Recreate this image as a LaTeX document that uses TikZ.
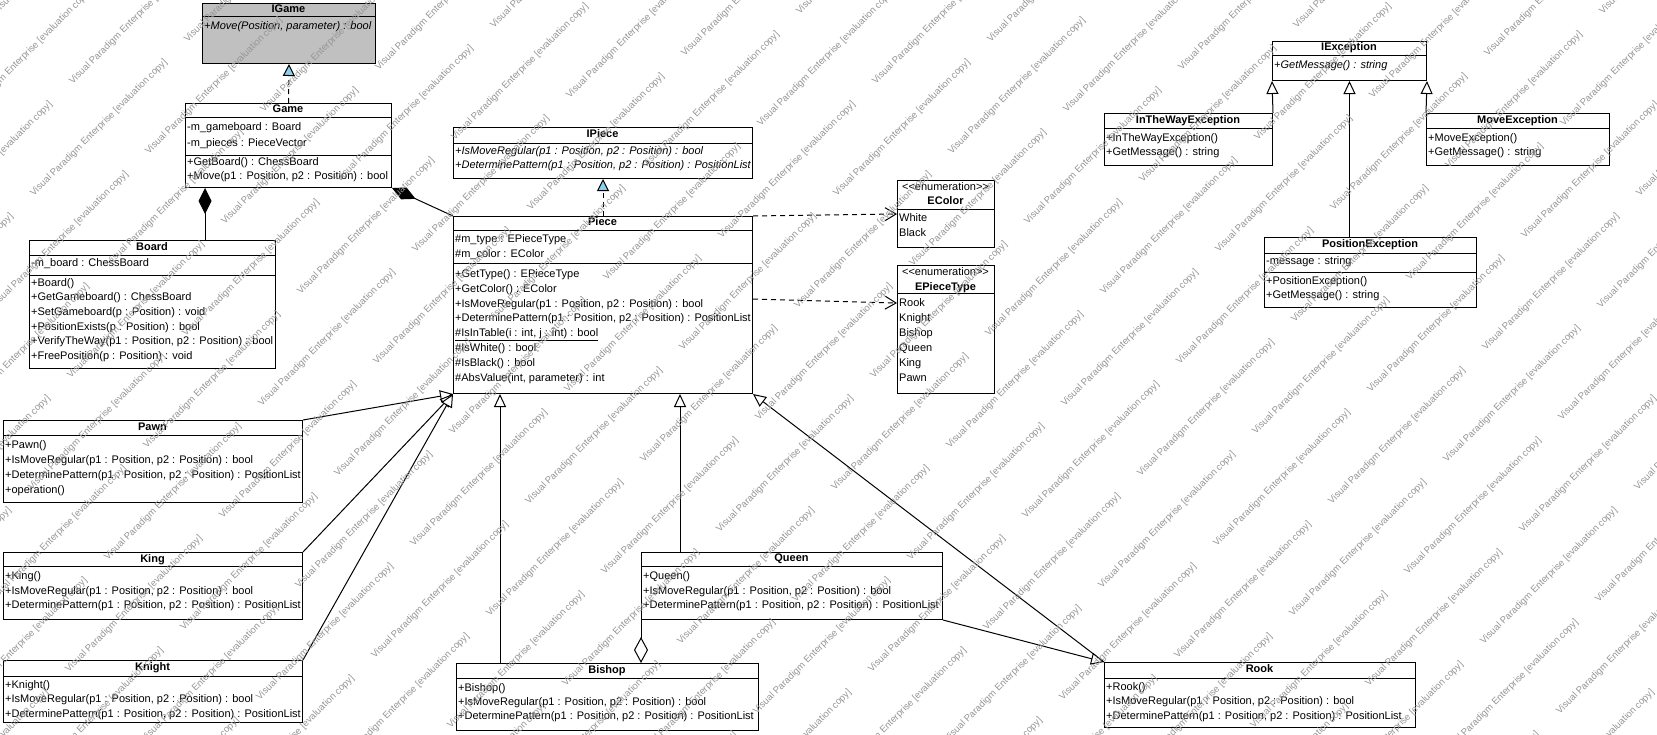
\documentclass[tikz,border=0pt]{standalone}
\usepackage{fontspec}
\setmainfont{Liberation Sans}
\usetikzlibrary{arrows.meta,calc}

\definecolor{ifacegray}{RGB}{192,192,192}
\definecolor{realblue}{RGB}{140,206,235}
\definecolor{wmgray}{RGB}{150,150,150}

% compartment separator inside a class box, #2 = distance from the top
\newcommand\compsep[2]{\draw[boxline] ([yshift=-#2pt]#1.north west) -- ([yshift=-#2pt]#1.north east);}

\tikzset{
  boxline/.style={line width=1pt},
  cls/.style={draw, line width=1pt, fill=white, inner sep=0pt, anchor=north west},
  txt/.style={font=\fontsize{11}{13}\selectfont, inner sep=0pt, anchor=west,
              text height=8pt, text depth=2.5pt},
  itxt/.style={txt, font=\fontsize{11}{13}\selectfont\itshape},
  ttl/.style={font=\fontsize{11}{13}\selectfont\bfseries, inner sep=0pt,
              text height=8pt, text depth=2.5pt},
  stereo/.style={font=\fontsize{11}{13}\selectfont, inner sep=0pt,
              text height=8pt, text depth=2.5pt},
  conn/.style={line width=1pt},
  gen/.style={conn, -{Triangle[length=13pt,width=12pt,fill=white]}},
  real/.style={conn, dash pattern=on 5pt off 4pt, -{Triangle[length=12pt,width=12pt,fill=realblue]}},
  dep/.style={conn, dash pattern=on 5pt off 4pt, -{Straight Barb[length=11pt,width=13pt]}},
  compo/.style={conn, {Diamond[length=26pt,width=13pt,fill=black]}-},
  aggr/.style={conn, {Diamond[length=26pt,width=14pt,fill=white]}-},
  wmark/.style={font=\fontsize{9.5}{11}\selectfont, text=wmgray, rotate=45,
              anchor=west, inner sep=0pt},
}

\begin{document}
\begin{tikzpicture}[x=1pt,y=-1pt]
\useasboundingbox (0,0) rectangle (1657,734);
\fill[white] (0,0) rectangle (1657,734);

% ---------- class boxes ----------
\node[cls, fill=ifacegray, minimum width=173pt, minimum height=60pt] (igame) at (202,3) {};
\compsep{igame}{13}
\node[cls, minimum width=206pt, minimum height=84pt] (game) at (185,103) {};
\compsep{game}{14}\compsep{game}{52}
\node[cls, minimum width=246pt, minimum height=128pt] (board) at (29,240) {};
\compsep{board}{15}\compsep{board}{35}
\node[cls, minimum width=299pt, minimum height=51pt] (ipiece) at (453,127) {};
\compsep{ipiece}{16}
\node[cls, minimum width=299pt, minimum height=177pt] (piece) at (453,216) {};
\compsep{piece}{14}\compsep{piece}{47}
\node[cls, minimum width=97pt, minimum height=67pt] (ecolor) at (897,180) {};
\compsep{ecolor}{29}
\node[cls, minimum width=97pt, minimum height=128pt] (epiece) at (897,265) {};
\compsep{epiece}{28}
\node[cls, minimum width=154pt, minimum height=39pt] (iexc) at (1272,41) {};
\compsep{iexc}{14}
\node[cls, minimum width=168pt, minimum height=52pt] (inway) at (1104,113) {};
\compsep{inway}{15}
\node[cls, minimum width=183pt, minimum height=52pt] (moveexc) at (1426,113) {};
\compsep{moveexc}{15}
\node[cls, minimum width=212pt, minimum height=70pt] (posexc) at (1264,237) {};
\compsep{posexc}{16}\compsep{posexc}{35}
\node[cls, minimum width=299pt, minimum height=82pt] (pawn) at (3,420) {};
\compsep{pawn}{15}
\node[cls, minimum width=299pt, minimum height=67pt] (king) at (3,552) {};
\compsep{king}{14}
\node[cls, minimum width=299pt, minimum height=62pt] (knight) at (3,660) {};
\compsep{knight}{16}
\node[cls, minimum width=302pt, minimum height=67pt] (bishop) at (456,663) {};
\compsep{bishop}{15}
\node[cls, minimum width=301pt, minimum height=67pt] (queen) at (641,552) {};
\compsep{queen}{14}
\node[cls, minimum width=311pt, minimum height=65pt] (rook) at (1104,662) {};
\compsep{rook}{16}

% ---------- class texts ----------
\node[ttl] (igameT) at (288.5,10) {IGame};
\node[itxt] (igame1) at (204,27) {+Move(Position, parameter) : bool};

\node[ttl] (gameT) at (288,110) {Game};
\node[txt] (game1) at (187,128) {-m\_gameboard : Board};
\node[txt] (game2) at (187,144) {-m\_pieces : PieceVector};
\node[txt] (game3) at (187,163) {+GetBoard() : ChessBoard};
\node[txt] (game4) at (187,177) {+Move(p1 : Position, p2 : Position) : bool};

\node[ttl] (boardT) at (152,247.5) {Board};
\node[txt] (board1) at (31,264) {-m\_board : ChessBoard};
\node[txt] (board2) at (31,284) {+Board()};
\node[txt] (board3) at (31,298) {+GetGameboard() : ChessBoard};
\node[txt] (board4) at (31,313) {+SetGameboard(p : Position) : void};
\node[txt] (board5) at (31,328) {+PositionExists(p : Position) : bool};
\node[txt] (board6) at (31,342) {+VerifyTheWay(p1 : Position, p2 : Position) : bool};
\node[txt] (board7) at (31,357) {+FreePosition(p : Position) : void};

\node[ttl] (ipieceT) at (602.5,135) {IPiece};
\node[itxt] (ipiece1) at (455,152) {+IsMoveRegular(p1 : Position, p2 : Position) : bool};
\node[itxt] (ipiece2) at (455,166) {+DeterminePattern(p1 : Position, p2 : Position) : PositionList};

\node[ttl] (pieceT) at (602.5,223) {Piece};
\node[txt] (piece1) at (455,240) {\#m\_type : EPieceType};
\node[txt] (piece2) at (455,255) {\#m\_color : EColor};
\node[txt] (piece3) at (455,275) {+GetType() : EPieceType};
\node[txt] (piece4) at (455,290) {+GetColor() : EColor};
\node[txt] (piece5) at (455,305) {+IsMoveRegular(p1 : Position, p2 : Position) : bool};
\node[txt] (piece6) at (455,319) {+DeterminePattern(p1 : Position, p2 : Position) : PositionList};
\node[txt] (piece7) at (455,334) {\underline{\#IsInTable(i : int, j : int) : bool}};
\node[txt] (piece8) at (455,349) {\#IsWhite() : bool};
\node[txt] (piece9) at (455,364) {\#IsBlack() : bool};
\node[txt] (piece10) at (455,379) {\#AbsValue(int, parameter) : int};

\node[stereo] (ecolorS) at (945.5,188) {<\kern0pt<enumeration>\kern0pt>};
\node[ttl] (ecolorT) at (945.5,202) {EColor};
\node[txt] (ecolor1) at (899,219) {White};
\node[txt] (ecolor2) at (899,234) {Black};

\node[stereo] (epieceS) at (945.5,273) {<\kern0pt<enumeration>\kern0pt>};
\node[ttl] (epieceT) at (945.5,288) {EPieceType};
\node[txt] (epiece1) at (899,304) {Rook};
\node[txt] (epiece2) at (899,319) {Knight};
\node[txt] (epiece3) at (899,334) {Bishop};
\node[txt] (epiece4) at (899,349) {Queen};
\node[txt] (epiece5) at (899,364) {King};
\node[txt] (epiece6) at (899,379) {Pawn};

\node[ttl] (iexcT) at (1349,48) {IException};
\node[itxt] (iexc1) at (1274,66) {+GetMessage() : string};

\node[ttl] (inwayT) at (1188,121) {InTheWayException};
\node[txt] (inway1) at (1106,139) {+InTheWayException()};
\node[txt] (inway2) at (1106,153) {+GetMessage() : string};

\node[ttl] (moveexcT) at (1517.5,121) {MoveException};
\node[txt] (moveexc1) at (1428,139) {+MoveException()};
\node[txt] (moveexc2) at (1428,153) {+GetMessage() : string};

\node[ttl] (posexcT) at (1370,245) {PositionException};
\node[txt] (posexc1) at (1266,262) {-message : string};
\node[txt] (posexc2) at (1266,282) {+PositionException()};
\node[txt] (posexc3) at (1266,296) {+GetMessage() : string};

\node[ttl] (pawnT) at (152.5,428) {Pawn};
\node[txt] (pawn1) at (5,446) {+Pawn()};
\node[txt] (pawn2) at (5,461) {+IsMoveRegular(p1 : Position, p2 : Position) : bool};
\node[txt] (pawn3) at (5,476) {+DeterminePattern(p1 : Position, p2 : Position) : PositionList};
\node[txt] (pawn4) at (5,491) {+operation()};

\node[ttl] (kingT) at (152.5,560) {King};
\node[txt] (king1) at (5,577) {+King()};
\node[txt] (king2) at (5,592) {+IsMoveRegular(p1 : Position, p2 : Position) : bool};
\node[txt] (king3) at (5,606) {+DeterminePattern(p1 : Position, p2 : Position) : PositionList};

\node[ttl] (knightT) at (152.5,668) {Knight};
\node[txt] (knight1) at (5,686) {+Knight()};
\node[txt] (knight2) at (5,700) {+IsMoveRegular(p1 : Position, p2 : Position) : bool};
\node[txt] (knight3) at (5,715) {+DeterminePattern(p1 : Position, p2 : Position) : PositionList};

\node[ttl] (bishopT) at (607,671) {Bishop};
\node[txt] (bishop1) at (458,689) {+Bishop()};
\node[txt] (bishop2) at (458,703) {+IsMoveRegular(p1 : Position, p2 : Position) : bool};
\node[txt] (bishop3) at (458,717) {+DeterminePattern(p1 : Position, p2 : Position) : PositionList};

\node[ttl] (queenT) at (791.5,559) {Queen};
\node[txt] (queen1) at (643,577) {+Queen()};
\node[txt] (queen2) at (643,592) {+IsMoveRegular(p1 : Position, p2 : Position) : bool};
\node[txt] (queen3) at (643,606) {+DeterminePattern(p1 : Position, p2 : Position) : PositionList};

\node[ttl] (rookT) at (1259.5,670) {Rook};
\node[txt] (rook1) at (1106,688) {+Rook()};
\node[txt] (rook2) at (1106,702) {+IsMoveRegular(p1 : Position, p2 : Position) : bool};
\node[txt] (rook3) at (1106,717) {+DeterminePattern(p1 : Position, p2 : Position) : PositionList};

% ---------- connector end points on box edges ----------
\coordinate (gameBoardEnd) at ([xshift=20pt]game.south west);
\coordinate (pieceBishopEnd) at ([xshift=47pt]piece.south west);
\coordinate (pieceQueenEnd) at ([xshift=227pt]piece.south west);
\coordinate (pieceEcolorEnd) at (piece.north east);
\coordinate (pieceEpieceEnd) at ([yshift=-83pt]piece.north east);
\coordinate (epieceIn) at ([yshift=-38pt]epiece.north west);

% ---------- realizations ----------
\draw[real] (game.north) -- (igame.south);
\draw[real] (piece.north) -- (ipiece.south);

% ---------- compositions ----------
\draw[compo] (gameBoardEnd) -- (board.north -| gameBoardEnd);
\draw[compo] (game.south east) -- (piece.north west);

% ---------- dependencies ----------
\draw[dep] (pieceEcolorEnd) -- (ecolor.west);
\draw[dep] (pieceEpieceEnd) -- (epieceIn);

% ---------- generalizations ----------
\draw[gen] (pawn.north east) -- (piece.south west);
\draw[gen] (king.north east) -- (piece.south west);
\draw[gen] (knight.north east) -- (piece.south west);
\draw[gen] (bishop.north -| pieceBishopEnd) -- (pieceBishopEnd);
\draw[gen] (queen.north -| pieceQueenEnd) -- (pieceQueenEnd);
\draw[gen] (rook.north west) -- (piece.south east);
\draw[gen] (queen.south east) -- (rook.north west);
\draw[gen] (inway.north east) -- (iexc.south west);
\draw[gen] (posexc.north -| iexc.south) -- (iexc.south);
\draw[gen] (moveexc.north west) -- (iexc.south east);

% ---------- aggregation ----------
\draw[aggr] (bishop.north -| queen.south west) -- (queen.south west);

% ---------- evaluation watermark ----------
\begin{scope}
\clip (0,0) rectangle (1657,734);
\foreach \s in {-19,...,20}{
  \foreach \t in {-8,...,8}{
    \pgfmathsetmacro\wx{603+115*\s+154*\t}
    \pgfmathsetmacro\wy{573-42*\s-154*\t}
    \ifdim\wx pt>-230pt \ifdim\wx pt<1670pt \ifdim\wy pt>-10pt \ifdim\wy pt<950pt
      \node[wmark] at (\wx,\wy) {Visual Paradigm Enterprise [evaluation copy]};
    \fi\fi\fi\fi
  }
}
\end{scope}
\end{tikzpicture}
\end{document}
